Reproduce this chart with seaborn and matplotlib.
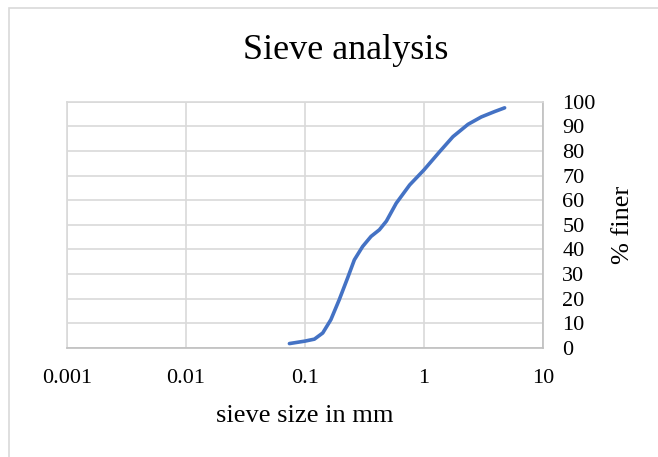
import matplotlib
matplotlib.use("Agg")
import matplotlib.pyplot as plt
import seaborn as sns
import pandas as pd
from matplotlib.patches import Rectangle

# values
sieve_mm = [0.074, 0.1, 0.12, 0.141, 0.165, 0.194, 0.228, 0.26, 0.305,
            0.359, 0.422, 0.483, 0.585, 0.758, 1.0, 1.354, 1.752, 2.344,
            3.03, 3.93, 4.76]
pct_finer = [1.8, 2.8, 3.6, 6.1, 11.5, 19.6, 28.4, 35.8, 41.2,
             45.3, 48.0, 51.5, 58.8, 66.2, 72.3, 79.7, 85.8, 90.8,
             93.8, 96.0, 97.5]
x_ticks = [0.001, 0.01, 0.1, 1, 10]
x_tick_labels = ["0.001", "0.01", "0.1", "1", "10"]
y_ticks = list(range(0, 101, 10))

df = pd.DataFrame({"size": sieve_mm, "finer": pct_finer})

sns.set_style("white")
plt.rcParams['font.family'] = ['Liberation Serif', 'DejaVu Serif']
plt.rcParams['text.color'] = 'black'

fig = plt.figure(figsize=(6.58, 4.57), dpi=100)
ax = fig.add_axes([0.1018, 0.2385, 0.7234, 0.539])

sns.lineplot(data=df, x="size", y="finer", ax=ax, color="#4472C4",
             linewidth=2.6, sort=False, solid_capstyle="round",
             solid_joinstyle="round")

ax.set_xscale("log")
ax.set_xlim(0.001, 10)
ax.set_ylim(0, 100)
ax.set_xticks(x_ticks)
ax.set_xticklabels(x_tick_labels)
ax.set_xticks([], minor=True)
ax.set_yticks(y_ticks)
ax.yaxis.tick_right()
ax.yaxis.set_label_position("right")
ax.tick_params(axis="both", length=0, labelsize=16, colors="black")
ax.tick_params(axis="x", pad=15)
ax.tick_params(axis="y", pad=14)

ax.grid(True, color="#d9d9d9", linewidth=1.2)
for side, sp in ax.spines.items():
    sp.set_color("#d9d9d9")
    sp.set_linewidth(1.2)
ax.spines["bottom"].set_color("#bfbfbf")
ax.spines["right"].set_color("#bfbfbf")

ax.set_xlabel("sieve size in mm", fontsize=19, labelpad=12, color="black")
ax.set_ylabel("% finer", fontsize=19, labelpad=12, color="black")
fig.suptitle("Sieve analysis", fontsize=26, x=0.525, y=0.925, color="black")

# outer chart border
fig.patches.append(Rectangle((9 / 658, -0.1), 1.2, 1 - 8 / 457 + 0.1,
                             transform=fig.transFigure, fill=False,
                             edgecolor="#d9d9d9", linewidth=1.2))

fig.savefig("out.png", dpi=100)
